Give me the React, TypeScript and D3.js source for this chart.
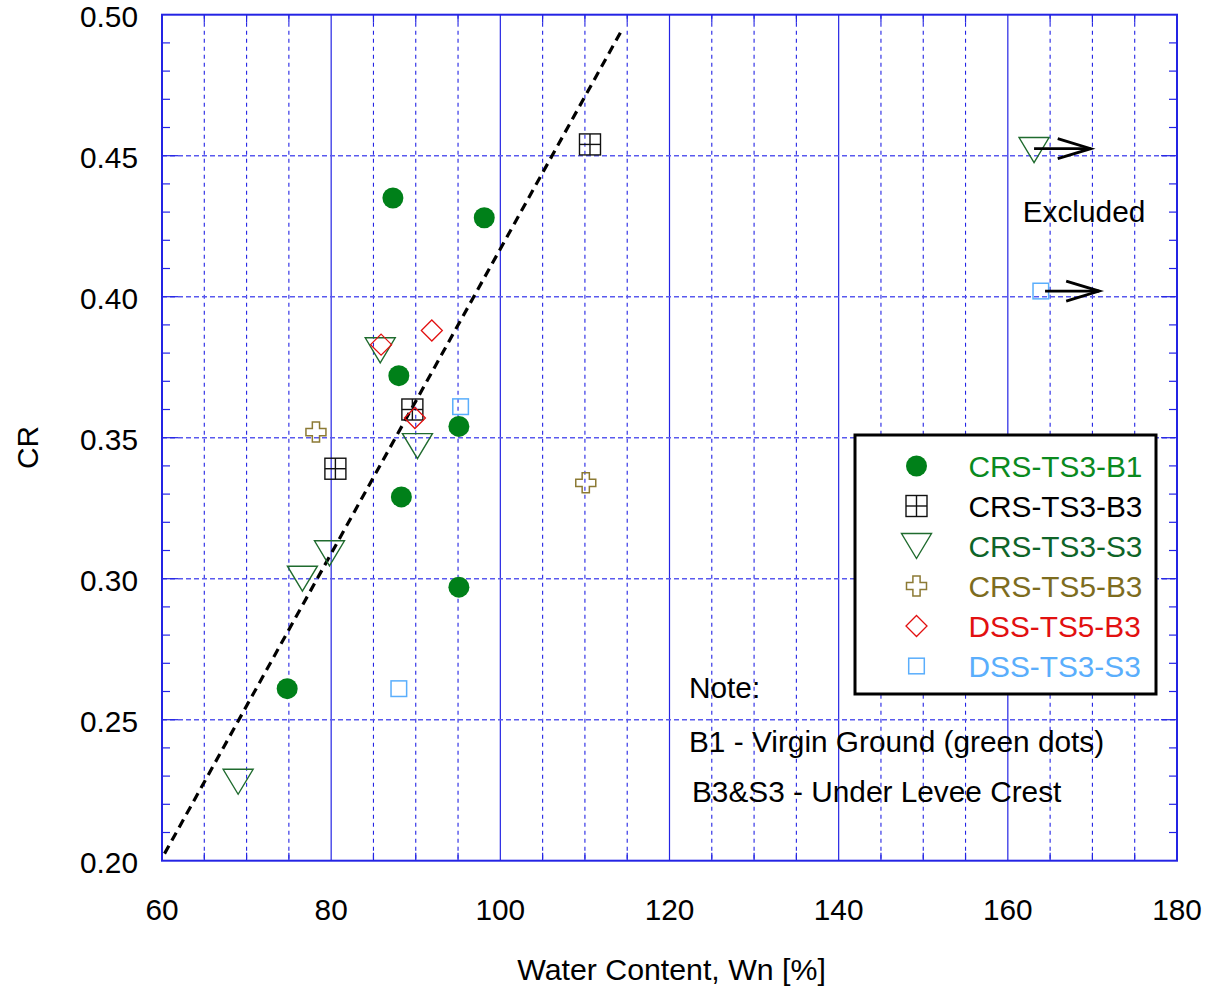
import React from "react";
import * as d3 from "d3";

// Axis ranges and tick labels
const xTicks = [60, 80, 100, 120, 140, 160, 180];
const yTicks = [0.2, 0.25, 0.3, 0.35, 0.4, 0.45, 0.5];

// Series: natural water content Wn [%] and CR
const b1Wn = [87.3, 98.1, 88.0, 95.1, 88.3, 95.1, 74.8];
const b1Cr = [0.435, 0.428, 0.372, 0.354, 0.329, 0.297, 0.261];
const b3Wn = [110.6, 89.6, 80.5];
const b3Cr = [0.454, 0.36, 0.339];
const s3Wn = [163.1, 85.8, 90.2, 79.8, 76.6, 69.0];
const s3Cr = [0.452, 0.381, 0.347, 0.309, 0.3, 0.228];
const ts5Wn = [78.2, 110.1];
const ts5Cr = [0.352, 0.334];
const dssB3Wn = [85.9, 91.9, 89.9];
const dssB3Cr = [0.383, 0.388, 0.357];
const dssS3Wn = [95.3, 88.0, 163.9];
const dssS3Cr = [0.361, 0.261, 0.402];

// Trend line end points
const trendWn = [60.3, 114.3];
const trendCr = [0.2025, 0.4942];

// Arrows flagging excluded points: [startWn, endWn, CR]
const excludedArrows = [
  [163.1, 169.8, 0.4525],
  [164.4, 170.8, 0.402],
];

const legendLabels = ["CRS-TS3-B1", "CRS-TS3-B3", "CRS-TS3-S3", "CRS-TS5-B3", "DSS-TS5-B3", "DSS-TS3-S3"];
const noteLines = ["Note:", "B1 - Virgin Ground (green dots)", "B3&S3 - Under Levee Crest"];

const W = 1209;
const H = 987;
const L = 162;
const R = 1177;
const T = 14.7;
const B = 860.7;
const FONT = "Arial, 'Liberation Sans', Helvetica, sans-serif";
const FS = 29.8;

const C_B1 = "#008019";
const C_B1_TEXT = "#0a8a1e";
const C_S3 = "#1f6b2e";
const C_S3_TEXT = "#0e6428";
const C_TS5 = "#8c7a34";
const C_TS5_TEXT = "#7d6c1e";
const C_DSSB3 = "#e21010";
const C_DSSS3 = "#5aaefc";
const GRID = "#2424e4";
const GRID_LIGHT = "#5a5aee";

const x = d3.scaleLinear().domain([60, 180]).range([L, R]);
const y = d3.scaleLinear().domain([0.2, 0.5]).range([B, T]);

const circlePath = d3.symbol().type(d3.symbolCircle).size(Math.PI * 10.5 * 10.5)();

function Circle({ cx, cy }: { cx: number; cy: number }) {
  return <path d={circlePath as string} transform={`translate(${cx},${cy})`} fill={C_B1} />;
}

function GridSquare({ cx, cy }: { cx: number; cy: number }) {
  const h = 10.5;
  return (
    <g stroke="#111" strokeWidth={1.4} fill="none">
      <rect x={cx - h} y={cy - h} width={2 * h} height={2 * h} />
      <line x1={cx} x2={cx} y1={cy - h} y2={cy + h} />
      <line x1={cx - h} x2={cx + h} y1={cy} y2={cy} />
    </g>
  );
}

function DownTriangle({ cx, cy }: { cx: number; cy: number }) {
  const hw = 15;
  const hh = 12.5;
  return (
    <path
      d={`M${cx - hw},${cy - hh}L${cx + hw},${cy - hh}L${cx},${cy + hh}Z`}
      fill="none"
      stroke={C_S3}
      strokeWidth={1.4}
    />
  );
}

function PlusOutline({ cx, cy }: { cx: number; cy: number }) {
  const o = 10;
  const i = 3.6;
  const d = `M${cx - i},${cy - o}L${cx + i},${cy - o}L${cx + i},${cy - i}L${cx + o},${cy - i}L${cx + o},${cy + i}L${cx + i},${cy + i}L${cx + i},${cy + o}L${cx - i},${cy + o}L${cx - i},${cy + i}L${cx - o},${cy + i}L${cx - o},${cy - i}L${cx - i},${cy - i}Z`;
  return <path d={d} fill="none" stroke={C_TS5} strokeWidth={1.5} />;
}

function Diamond({ cx, cy }: { cx: number; cy: number }) {
  const r = 10.5;
  return (
    <path
      d={`M${cx},${cy - r}L${cx + r},${cy}L${cx},${cy + r}L${cx - r},${cy}Z`}
      fill="none"
      stroke={C_DSSB3}
      strokeWidth={1.3}
    />
  );
}

function SmallSquare({ cx, cy }: { cx: number; cy: number }) {
  const h = 7.8;
  return (
    <rect x={cx - h} y={cy - h} width={2 * h} height={2 * h} fill="none" stroke={C_DSSS3} strokeWidth={1.5} />
  );
}

export default function App() {
  const majorX = d3.range(80, 180, 20);
  const minorX = d3.range(65, 180, 5).filter((v) => v % 20 !== 0);
  const gridY = d3.range(0.25, 0.499, 0.05);
  const minorY = d3.range(0.21, 0.5, 0.01).filter((v) => Math.abs(v * 100 - Math.round(v * 20) * 5) > 0.01);

  const trend = d3.line<number>().x((d, i) => x(trendWn[i])).y((d, i) => y(trendCr[i]));

  const legendMarkers = [Circle, GridSquare, DownTriangle, PlusOutline, Diamond, SmallSquare];
  const legendColors = [C_B1_TEXT, "#000", C_S3_TEXT, C_TS5_TEXT, C_DSSB3, C_DSSS3];

  return (
    <svg
      width={W}
      height={H}
      style={{ position: "absolute", left: 0, top: 0, background: "#fff" }}
      fontFamily={FONT}
    >
      {/* vertical grid */}
      {minorX.map((v) => (
        <line key={`mx${v}`} x1={x(v)} x2={x(v)} y1={T} y2={B} stroke={GRID} strokeWidth={1.1} strokeDasharray="4,4" />
      ))}
      {majorX.map((v) => (
        <line key={`Mx${v}`} x1={x(v)} x2={x(v)} y1={T} y2={B} stroke={GRID} strokeWidth={1.2} />
      ))}
      {/* horizontal grid */}
      {gridY.map((v) => (
        <line key={`gy${v}`} x1={L} x2={R} y1={y(v)} y2={y(v)} stroke={GRID_LIGHT} strokeWidth={1.4} strokeDasharray="5,3" />
      ))}
      {/* inner ticks */}
      <g stroke={GRID} strokeWidth={1.2}>
        {minorY.map((v) => (
          <g key={`ty${v}`}>
            <line x1={L} x2={L + 8} y1={y(v)} y2={y(v)} />
            <line x1={R} x2={R - 8} y1={y(v)} y2={y(v)} />
          </g>
        ))}
        {gridY.map((v) => (
          <g key={`tY${v}`}>
            <line x1={L} x2={L + 16} y1={y(v)} y2={y(v)} />
            <line x1={R} x2={R - 16} y1={y(v)} y2={y(v)} />
          </g>
        ))}
        {minorX.map((v) => (
          <g key={`tx${v}`}>
            <line x1={x(v)} x2={x(v)} y1={T} y2={T + 8} />
            <line x1={x(v)} x2={x(v)} y1={B} y2={B - 8} />
          </g>
        ))}
      </g>
      {/* frame */}
      <rect x={L} y={T} width={R - L} height={B - T} fill="none" stroke={GRID} strokeWidth={2} />

      {/* trend line */}
      <path d={trend([0, 1]) as string} fill="none" stroke="#000" strokeWidth={3.2} strokeDasharray="9,6" />

      {/* series */}
      {b1Wn.map((v, i) => (
        <Circle key={`b1${i}`} cx={x(v)} cy={y(b1Cr[i])} />
      ))}
      {b3Wn.map((v, i) => (
        <GridSquare key={`b3${i}`} cx={x(v)} cy={y(b3Cr[i])} />
      ))}
      {s3Wn.map((v, i) => (
        <DownTriangle key={`s3${i}`} cx={x(v)} cy={y(s3Cr[i])} />
      ))}
      {ts5Wn.map((v, i) => (
        <PlusOutline key={`t5${i}`} cx={x(v)} cy={y(ts5Cr[i])} />
      ))}
      {dssB3Wn.map((v, i) => (
        <Diamond key={`db${i}`} cx={x(v)} cy={y(dssB3Cr[i])} />
      ))}
      {dssS3Wn.map((v, i) => (
        <SmallSquare key={`ds${i}`} cx={x(v)} cy={y(dssS3Cr[i])} />
      ))}

      {/* excluded arrows */}
      {excludedArrows.map(([a, b, c], i) => {
        const x0 = x(a);
        const x1 = x(b);
        const yy = y(c);
        return (
          <g key={`ar${i}`} stroke="#000" strokeWidth={2.8} fill="none">
            <line x1={x0} x2={x1} y1={yy} y2={yy} />
            <path d={`M${x1 - 33},${yy - 10}L${x1},${yy}L${x1 - 33},${yy + 10}`} />
          </g>
        );
      })}
      <text x={1084} y={221.7} fontSize={FS} textAnchor="middle" fill="#000">
        Excluded
      </text>

      {/* note */}
      <text x={689} y={697.7} fontSize={FS} fill="#000">{noteLines[0]}</text>
      <text x={689} y={751.7} fontSize={FS} fill="#000">{noteLines[1]}</text>
      <text x={692} y={801.7} fontSize={FS} fill="#000">{noteLines[2]}</text>

      {/* legend */}
      <rect x={855} y={435} width={301} height={259} fill="#fff" stroke="#000" strokeWidth={3} />
      {legendLabels.map((lab, i) => {
        const cy = 466 + i * 40;
        const M = legendMarkers[i];
        return (
          <g key={lab}>
            <M cx={916.5} cy={cy} />
            <text x={968.5} y={cy + 10.5} fontSize={FS} fill={legendColors[i]}>
              {lab}
            </text>
          </g>
        );
      })}

      {/* tick labels */}
      {xTicks.map((v) => (
        <text key={`xl${v}`} x={x(v)} y={920} fontSize={FS} textAnchor="middle" fill="#000">
          {v}
        </text>
      ))}
      {yTicks.map((v) => (
        <text key={`yl${v}`} x={138} y={y(v) + 12.5} fontSize={FS} textAnchor="end" fill="#000">
          {v.toFixed(2)}
        </text>
      ))}

      {/* axis titles */}
      <text x={671.5} y={979.5} fontSize={30.3} textAnchor="middle" fill="#000">
        Water Content, Wn [%]
      </text>
      <text transform="translate(37.5,447.5) rotate(-90)" fontSize={FS} textAnchor="middle" fill="#000">
        CR
      </text>
    </svg>
  );
}
